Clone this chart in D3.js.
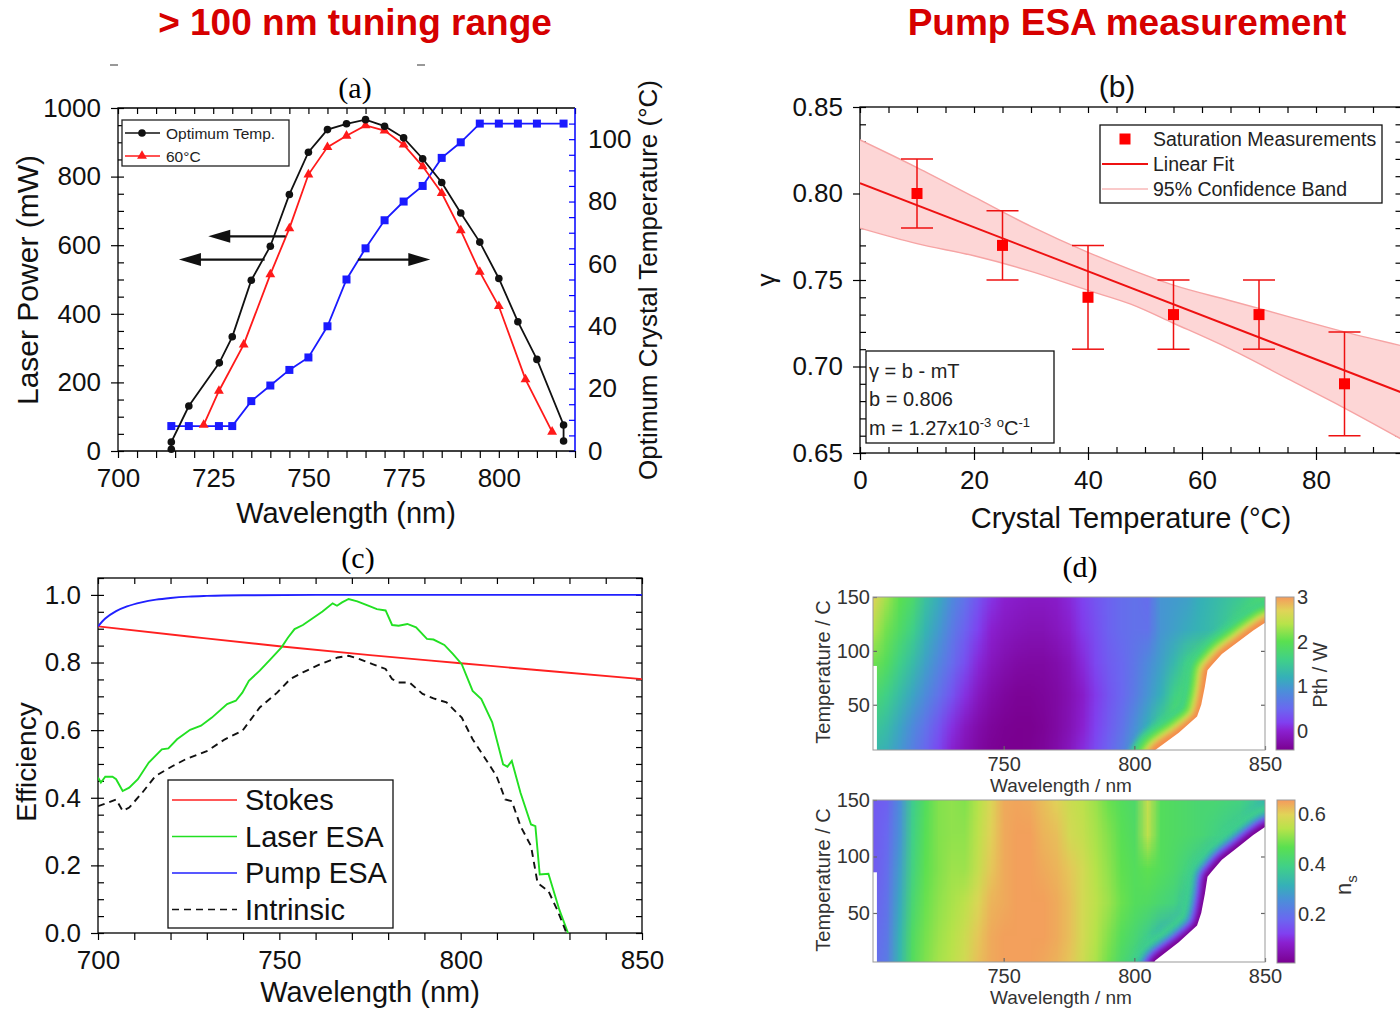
<!DOCTYPE html>
<html>
<head>
<meta charset="utf-8">
<script src="https://cdn.jsdelivr.net/npm/d3@7"></script>
<style>
body { margin: 0; background: #fff; }
svg { display: block; }
</style>
</head>
<body>
<div id="chart"></div>
<script>
// ---- panel (a): tuning curves ----
const optWl = [714, 714, 718.6, 726.6, 730, 735, 740, 745, 750, 755, 760, 765, 770, 775, 780, 785, 790, 795, 800, 805, 810, 817, 817]
const optPow = [5, 26, 131, 257, 333, 498, 597, 748, 871, 937, 954, 966, 947, 913, 852, 783, 694, 609, 503, 377, 267, 76, 29]
const t60Wl = [722.5, 726.5, 733, 740, 745, 750, 755, 760, 765, 770, 775, 780, 785, 790, 795, 800, 807, 814]
const t60Pow = [76, 175, 310, 515, 649, 806, 886, 919, 949, 934, 893, 830, 752, 643, 522, 422, 209, 56]
const tempWl = [714, 718.6, 726.5, 730, 735, 740, 745, 750, 755, 760, 765, 770, 775, 780, 785, 790, 795, 800, 805, 810, 817]
const tempC = [8, 8, 8, 8, 16, 21, 26, 30, 40, 55, 65, 74, 80, 85, 94, 99, 105, 105, 105, 105, 105]
// arrows: [tail wavelength, head wavelength, power level]
const arrowFrom = [744, 738.5, 763]
const arrowTo = [723.7, 716, 782]
const arrowAt = [626, 558, 558]

// ---- panel (b): gamma vs temperature ----
const bTemp = [10, 25, 40, 55, 70, 85]
const bGamma = [0.80, 0.77, 0.74, 0.73, 0.73, 0.69]
const bErr = [0.02, 0.02, 0.03, 0.02, 0.02, 0.03]
const fitT = [0, 95]
const fitG = [0.806, 0.685]
const bandT = [0, 10, 20, 30, 40, 47.5, 55, 65, 75, 85, 95]
const bandHi = [0.831, 0.815, 0.798, 0.781, 0.766, 0.756, 0.747, 0.738, 0.729, 0.720, 0.712]
const bandLo = [0.780, 0.771, 0.764, 0.755, 0.744, 0.736, 0.725, 0.710, 0.693, 0.676, 0.658]

// ---- panel (c): efficiencies ----
const stokesWl = [700, 725, 750, 775, 800, 825, 850]
const stokesEff = [0.907, 0.877, 0.848, 0.822, 0.798, 0.774, 0.751]
const pumpWl = [700, 702, 705, 708, 712, 716, 720, 725, 730, 740, 760, 850]
const pumpEff = [0.907, 0.93, 0.952, 0.966, 0.978, 0.986, 0.991, 0.995, 0.997, 0.999, 1.0, 1.0]
const laserWl = [700, 700.8, 702, 704, 705, 706.8, 708.6, 711, 714, 717.6, 719.4, 721.8, 725.4, 728.4, 731.4, 735.6, 738, 739.8, 741.6, 744.6, 747.6, 750.6, 752.4, 754.2, 756.5, 758.9, 761.9, 764.7, 765.9, 767.3, 769.1, 771.5, 774.5, 776.9, 779.3, 781.1, 782.9, 785.3, 787.7, 790.7, 792.5, 795.5, 797.9, 800.3, 803.3, 805.7, 808.7, 811.7, 812.9, 814.1, 816.5, 819.4, 820.6, 821.8, 824.2, 827.2, 829.6]
const laserEff = [0.46, 0.445, 0.462, 0.462, 0.455, 0.42, 0.43, 0.455, 0.504, 0.543, 0.546, 0.573, 0.601, 0.613, 0.637, 0.677, 0.687, 0.711, 0.746, 0.776, 0.81, 0.845, 0.874, 0.899, 0.911, 0.929, 0.951, 0.975, 0.968, 0.978, 0.988, 0.981, 0.968, 0.958, 0.954, 0.911, 0.909, 0.914, 0.904, 0.870, 0.868, 0.852, 0.825, 0.795, 0.716, 0.692, 0.623, 0.499, 0.492, 0.509, 0.415, 0.321, 0.316, 0.173, 0.175, 0.069, 0.0]
const intrWl = [700, 702.6, 705, 706.8, 708.6, 712.2, 715.8, 720.6, 724.2, 730.2, 735, 739.8, 744.6, 749.4, 753, 756.5, 761.3, 766.1, 769.1, 772.1, 775.7, 779.3, 781.1, 782.9, 785.9, 789.5, 792.5, 796.1, 800.3, 803.3, 806.9, 809.9, 812.3, 814.1, 816.5, 819.4, 821.2, 824.2, 826.6, 829]
const intrEff = [0.375, 0.385, 0.395, 0.361, 0.371, 0.415, 0.464, 0.494, 0.514, 0.539, 0.573, 0.598, 0.667, 0.711, 0.751, 0.771, 0.795, 0.815, 0.82, 0.81, 0.795, 0.781, 0.751, 0.741, 0.741, 0.707, 0.694, 0.682, 0.637, 0.573, 0.514, 0.464, 0.395, 0.39, 0.316, 0.257, 0.148, 0.124, 0.069, 0.005]
const legendC = ['Stokes', 'Laser ESA', 'Pump ESA', 'Intrinsic']

// ---- panel (d): maps ----
const hmWl = [700, 705, 710, 715, 720, 725, 730, 735, 740, 745, 750, 755, 760, 765, 770, 775, 780, 785, 790, 795, 800, 805, 810, 815, 820, 825, 830, 835, 840, 845, 850]
const hmT = [150, 120, 90, 60, 30, 0]
const pthRows = [
  [2.7, 2.3, 2.0, 1.8, 1.4, 1.15, 0.85, 0.6, 0.35, 0.12, 0.0, -0.05, -0.08, -0.08, -0.05, 0.05, 0.2, 0.35, 0.45, 0.55, 0.6, 0.55, 0.95, 1.0, 1.05, 1.2, 1.3, 1.4, 1.5, 1.65, 1.8],
  [2.4, 2.1, 1.85, 1.6, 1.25, 1.0, 0.7, 0.45, 0.2, 0.0, -0.1, -0.15, -0.18, -0.18, -0.12, -0.02, 0.15, 0.3, 0.45, 0.55, 0.6, 0.6, 0.95, 1.05, 1.15, 1.25, 1.35, 1.5, 1.75, 1.9, 1.9],
  [2.1, 1.9, 1.6, 1.35, 1.05, 0.8, 0.55, 0.3, 0.05, -0.12, -0.22, -0.28, -0.3, -0.3, -0.25, -0.15, 0.05, 0.25, 0.4, 0.5, 0.65, 0.85, 1.05, 1.3, 1.6, 1.8, 1.9, 1.9, 1.9, 1.9, 1.9],
  [1.8, 1.6, 1.35, 1.1, 0.85, 0.6, 0.35, 0.1, -0.1, -0.25, -0.33, -0.38, -0.38, -0.35, -0.3, -0.2, -0.05, 0.15, 0.35, 0.5, 0.7, 0.95, 1.2, 1.6, 1.8, 1.9, 1.9, 1.9, 1.9, 1.9, 1.9],
  [1.5, 1.35, 1.1, 0.85, 0.6, 0.35, 0.1, -0.1, -0.25, -0.35, -0.4, -0.42, -0.42, -0.38, -0.3, -0.18, 0.0, 0.2, 0.4, 0.6, 0.9, 1.2, 1.6, 1.9, 1.9, 1.9, 1.9, 1.9, 1.9, 1.9, 1.9],
  [1.25, 1.15, 0.95, 0.7, 0.45, 0.2, -0.05, -0.2, -0.32, -0.4, -0.43, -0.43, -0.4, -0.35, -0.25, -0.1, 0.1, 0.3, 0.5, 0.75, 1.1, 1.5, 1.9, 1.9, 1.9, 1.9, 1.9, 1.9, 1.9, 1.9, 1.9]
]
const nsRows = [
  [0.16, 0.17, 0.25, 0.38, 0.45, 0.5, 0.51, 0.5, 0.54, 0.59, 0.64, 0.645, 0.64, 0.62, 0.6, 0.57, 0.55, 0.52, 0.48, 0.45, 0.43, 0.56, 0.45, 0.44, 0.43, 0.42, 0.42, 0.41, 0.4, 0.37, 0.33],
  [0.16, 0.18, 0.26, 0.39, 0.46, 0.5, 0.51, 0.51, 0.55, 0.6, 0.64, 0.65, 0.65, 0.63, 0.62, 0.58, 0.56, 0.53, 0.5, 0.46, 0.44, 0.55, 0.45, 0.44, 0.43, 0.42, 0.40, 0.38, 0.36, 0.32, 0.3],
  [0.16, 0.19, 0.28, 0.4, 0.47, 0.5, 0.52, 0.52, 0.56, 0.61, 0.64, 0.65, 0.65, 0.64, 0.63, 0.61, 0.58, 0.54, 0.51, 0.47, 0.45, 0.47, 0.45, 0.43, 0.4, 0.36, 0.3, 0.3, 0.3, 0.3, 0.3],
  [0.17, 0.2, 0.3, 0.42, 0.48, 0.51, 0.53, 0.55, 0.59, 0.63, 0.64, 0.65, 0.65, 0.65, 0.64, 0.62, 0.58, 0.55, 0.52, 0.48, 0.45, 0.44, 0.42, 0.4, 0.35, 0.3, 0.3, 0.3, 0.3, 0.3, 0.3],
  [0.18, 0.21, 0.32, 0.44, 0.49, 0.52, 0.54, 0.57, 0.61, 0.64, 0.65, 0.65, 0.65, 0.65, 0.64, 0.62, 0.58, 0.54, 0.5, 0.45, 0.42, 0.38, 0.32, 0.3, 0.3, 0.3, 0.3, 0.3, 0.3, 0.3, 0.3],
  [0.19, 0.22, 0.33, 0.45, 0.5, 0.53, 0.55, 0.58, 0.62, 0.64, 0.65, 0.65, 0.65, 0.64, 0.63, 0.61, 0.57, 0.53, 0.48, 0.42, 0.38, 0.32, 0.3, 0.3, 0.3, 0.3, 0.3, 0.3, 0.3, 0.3, 0.3]
]
// no-lasing cutoff (white region lies at longer wavelength / lower temperature)
const cutWl = [806, 808, 817, 824, 825.6, 827, 828, 829.7, 833.5, 839.5, 845.5, 850]
const cutT = [0, 8, 24, 39, 50, 67, 82, 87, 97, 108, 119, 126]
const notchWl = 701.5, notchT = 86

const FONT = 'Arial, "Liberation Sans", sans-serif'
const SERIF = '"Times New Roman", "Liberation Serif", serif'
const palT = [0, 0.125, 0.18, 0.27, 0.39, 0.475, 0.59, 0.71, 0.825, 0.91, 1]
const palC = ['#7a0090', '#8a20d0', '#8040f0', '#6a68f0', '#4a90d8', '#35b0b8', '#40d088', '#5ae050', '#b8e34a', '#e0d458', '#f59a5c']

let svg = d3.select('#chart').append('svg')
.attr('width', 1400)
.attr('height', 1010)
.attr('font-family', FONT)
.style('background', '#fff')

let defs = svg.append('defs')
defs.append('filter').attr('id', 'soft').attr('x', '-20%').attr('y', '-20%').attr('width', '140%').attr('height', '140%')
.append('feGaussianBlur').attr('stdDeviation', 2.5)

function clip(id, x0, y0, x1, y1) {
	defs.append('clipPath').attr('id', id)
	.append('rect').attr('x', x0).attr('y', y0).attr('width', x1 - x0).attr('height', y1 - y0)
}

function axis(g, gen, size, color = '#000') {
	g.call(gen)
	g.select('.domain').remove()
	g.attr('font-size', size).attr('font-family', FONT)
	g.selectAll('.tick line').attr('stroke', color).attr('stroke-width', 1.2)
	g.selectAll('.tick text').attr('fill', '#111')
	return g
}

// headers
svg.append('text').attr('x', 355).attr('y', 35).attr('text-anchor', 'middle')
.attr('font-size', 37).attr('font-weight', 'bold').attr('fill', '#d60000').text('> 100 nm tuning range')
svg.append('text').attr('x', 1127).attr('y', 35).attr('text-anchor', 'middle')
.attr('font-size', 37).attr('font-weight', 'bold').attr('fill', '#d60000').text('Pump ESA measurement')

// ================= panel (a) =================
let xA = d3.scaleLinear().domain([700, 820]).range([118, 575])
let yA = d3.scaleLinear().domain([0, 1000]).range([451, 108])
let yA2 = d3.scaleLinear().domain([0, 110]).range([451, 108])
let gA = svg.append('g')

gA.append('line').attr('x1', 110).attr('x2', 118).attr('y1', 65).attr('y2', 65).attr('stroke', '#333')
gA.append('line').attr('x1', 417).attr('x2', 425).attr('y1', 65).attr('y2', 65).attr('stroke', '#333')

axis(gA.append('g').attr('transform', `translate(0,${yA(0)})`),
	d3.axisBottom(xA).tickValues(d3.range(700, 821, 5)).tickSize(7).tickPadding(11).tickFormat(d => d % 25 == 0 ? d : ''), 26)
axis(gA.append('g').attr('transform', `translate(0,${yA(1000)})`),
	d3.axisTop(xA).tickValues(d3.range(700, 821, 5)).tickSize(-6).tickFormat(''), 26)
axis(gA.append('g').attr('transform', `translate(${xA(700)},0)`),
	d3.axisLeft(yA).tickValues(d3.range(0, 1001, 200)).tickSize(7).tickPadding(10).tickFormat(d3.format('d')), 26)
axis(gA.append('g').attr('transform', `translate(${xA(700)},0)`),
	d3.axisLeft(yA).tickValues(d3.range(0, 1001, 50)).tickSize(-6).tickFormat(''), 26)
axis(gA.append('g').attr('transform', `translate(${xA(820)},0)`),
	d3.axisRight(yA2).tickValues(d3.range(0, 101, 20)).tickSize(0).tickPadding(13), 26, '#00f')
axis(gA.append('g').attr('transform', `translate(${xA(820)},0)`),
	d3.axisRight(yA2).tickValues(d3.range(0, 106, 5)).tickSize(-6).tickFormat(''), 26, '#00f')

gA.append('path')
.attr('d', `M${xA(820)},${yA(0)}H${xA(700)}V${yA(1000)}H${xA(820)}`)
.attr('fill', 'none').attr('stroke', '#000').attr('stroke-width', 1.3)
gA.append('line').attr('x1', xA(820)).attr('x2', xA(820)).attr('y1', yA(0)).attr('y2', yA(1000))
.attr('stroke', '#00f').attr('stroke-width', 1.5)

let blueData = d3.zip(tempWl, tempC)
let redData = d3.zip(t60Wl, t60Pow)
let blackData = d3.zip(optWl, optPow)

gA.append('path').datum(blueData)
.attr('d', d3.line().x(d => xA(d[0])).y(d => yA2(d[1])))
.attr('fill', 'none').attr('stroke', '#1a1aff').attr('stroke-width', 1.8)
gA.selectAll('.sq').data(blueData).join('path')
.attr('class', 'sq')
.attr('transform', d => `translate(${xA(d[0])},${yA2(d[1])})`)
.attr('d', d3.symbol(d3.symbolSquare, 64))
.attr('fill', '#1a1aff')

gA.append('path').datum(redData)
.attr('d', d3.line().x(d => xA(d[0])).y(d => yA(d[1])))
.attr('fill', 'none').attr('stroke', '#ff1a1a').attr('stroke-width', 1.8)
gA.selectAll('.tri').data(redData).join('path')
.attr('class', 'tri')
.attr('transform', d => `translate(${xA(d[0])},${yA(d[1])})`)
.attr('d', d3.symbol(d3.symbolTriangle, 42))
.attr('fill', '#ff1a1a')

gA.append('path').datum(blackData)
.attr('d', d3.line().x(d => xA(d[0])).y(d => yA(d[1])))
.attr('fill', 'none').attr('stroke', '#111').attr('stroke-width', 1.8)
gA.selectAll('.dot').data(blackData).join('circle')
.attr('class', 'dot')
.attr('cx', d => xA(d[0])).attr('cy', d => yA(d[1])).attr('r', 3.8)
.attr('fill', '#111')

// arrows
arrowFrom.forEach((f, i) => {
	let x0 = xA(f), x1 = xA(arrowTo[i]), y = yA(arrowAt[i])
	let dir = x1 < x0 ? 1 : -1
	gA.append('line').attr('x1', x0).attr('x2', x1 + dir * 18).attr('y1', y).attr('y2', y)
	.attr('stroke', '#111').attr('stroke-width', 2.2)
	gA.append('path')
	.attr('d', `M${x1},${y}L${x1 + dir * 22},${y - 6.5}L${x1 + dir * 22},${y + 6.5}Z`)
	.attr('fill', '#111')
})

// legend (a)
let legA = gA.append('g')
legA.append('rect').attr('x', 122).attr('y', 120).attr('width', 167).attr('height', 46)
.attr('fill', '#fff').attr('stroke', '#222').attr('stroke-width', 1.3)
legA.append('line').attr('x1', 125).attr('x2', 160).attr('y1', 133).attr('y2', 133).attr('stroke', '#111').attr('stroke-width', 1.6)
legA.append('circle').attr('cx', 142).attr('cy', 133).attr('r', 3.8).attr('fill', '#111')
legA.append('text').attr('x', 166).attr('y', 138.5).attr('font-size', 15.5).attr('fill', '#222').text('Optimum Temp.')
legA.append('line').attr('x1', 125).attr('x2', 160).attr('y1', 156).attr('y2', 156).attr('stroke', '#ff1a1a').attr('stroke-width', 1.6)
legA.append('path').attr('transform', 'translate(142,156)').attr('d', d3.symbol(d3.symbolTriangle, 42)).attr('fill', '#ff1a1a')
legA.append('text').attr('x', 166).attr('y', 161.5).attr('font-size', 15.5).attr('fill', '#222').text('60°C')

gA.append('text').attr('x', 355).attr('y', 98).attr('text-anchor', 'middle')
.attr('font-family', SERIF).attr('font-size', 30).text('(a)')
gA.append('text').attr('transform', 'translate(38,280) rotate(-90)').attr('text-anchor', 'middle')
.attr('font-size', 30).attr('fill', '#111').text('Laser Power (mW)')
gA.append('text').attr('x', 346).attr('y', 523).attr('text-anchor', 'middle')
.attr('font-size', 29).attr('fill', '#111').text('Wavelength (nm)')
gA.append('text').attr('transform', 'translate(657,280) rotate(-90)').attr('text-anchor', 'middle')
.attr('font-size', 26).attr('fill', '#111').text('Optimum Crystal Temperature (°C)')

// ================= panel (b) =================
let xB = d3.scaleLinear().domain([0, 95]).range([860, 1401.5])
let yB = d3.scaleLinear().domain([0.65, 0.85]).range([453, 107])
let gB = svg.append('g')
clip('clipB', 860, 107, 1401.5, 453)

axis(gB.append('g').attr('transform', `translate(0,${yB(0.65)})`),
	d3.axisBottom(xB).tickValues([0, 20, 40, 60, 80]).tickSize(7).tickPadding(11), 26)
axis(gB.append('g').attr('transform', `translate(0,${yB(0.65)})`),
	d3.axisBottom(xB).tickValues(d3.range(0, 96, 5)).tickSize(-6).tickFormat(''), 26)
axis(gB.append('g').attr('transform', `translate(0,${yB(0.85)})`),
	d3.axisTop(xB).tickValues(d3.range(0, 96, 5)).tickSize(-6).tickFormat(''), 26)
axis(gB.append('g').attr('transform', `translate(${xB(0)},0)`),
	d3.axisLeft(yB).tickValues([0.65, 0.70, 0.75, 0.80, 0.85]).tickSize(7).tickPadding(10).tickFormat(d3.format('.2f')), 26)
axis(gB.append('g').attr('transform', `translate(${xB(0)},0)`),
	d3.axisLeft(yB).tickValues(d3.range(0, 21).map(i => 0.65 + i * 0.01)).tickSize(-6).tickFormat(''), 26)
axis(gB.append('g').attr('transform', `translate(${xB(95)},0)`),
	d3.axisRight(yB).tickValues(d3.range(0, 21).map(i => 0.65 + i * 0.01)).tickSize(-6).tickFormat(''), 26)

gB.append('rect').attr('x', xB(0)).attr('y', yB(0.85)).attr('width', xB(95) - xB(0)).attr('height', yB(0.65) - yB(0.85))
.attr('fill', 'none').attr('stroke', '#000').attr('stroke-width', 1.3)

let bandData = bandT.map((t, i) => ({ t: t, hi: bandHi[i], lo: bandLo[i] }))
let plotB = gB.append('g').attr('clip-path', 'url(#clipB)')
plotB.append('path').datum(bandData)
.attr('d', d3.area().curve(d3.curveMonotoneX).x(d => xB(d.t)).y0(d => yB(d.lo)).y1(d => yB(d.hi)))
.attr('fill', '#fdd6d6')
;['hi', 'lo'].forEach(k => {
	plotB.append('path').datum(bandData)
	.attr('d', d3.line().curve(d3.curveMonotoneX).x(d => xB(d.t)).y(d => yB(d[k])))
	.attr('fill', 'none').attr('stroke', '#f6a4a4').attr('stroke-width', 1.4)
})
plotB.append('path').datum(d3.zip(fitT, fitG))
.attr('d', d3.line().x(d => xB(d[0])).y(d => yB(d[1])))
.attr('fill', 'none').attr('stroke', '#ee1111').attr('stroke-width', 1.9)

bTemp.forEach((t, i) => {
	let x = xB(t), y0 = yB(bGamma[i] - bErr[i]), y1 = yB(bGamma[i] + bErr[i])
	plotB.append('line').attr('x1', x).attr('x2', x).attr('y1', y0).attr('y2', y1).attr('stroke', '#ee1111').attr('stroke-width', 1.5)
	plotB.append('line').attr('x1', x - 16).attr('x2', x + 16).attr('y1', y0).attr('y2', y0).attr('stroke', '#ee1111').attr('stroke-width', 1.5)
	plotB.append('line').attr('x1', x - 16).attr('x2', x + 16).attr('y1', y1).attr('y2', y1).attr('stroke', '#ee1111').attr('stroke-width', 1.5)
	plotB.append('rect').attr('x', x - 5.5).attr('y', yB(bGamma[i]) - 5.5).attr('width', 11).attr('height', 11).attr('fill', '#ff0000')
})

let legB = gB.append('g')
legB.append('rect').attr('x', 1100).attr('y', 125).attr('width', 282).attr('height', 78)
.attr('fill', '#fff').attr('stroke', '#111').attr('stroke-width', 1.3)
legB.append('rect').attr('x', 1119.5).attr('y', 133.5).attr('width', 11).attr('height', 11).attr('fill', '#ff0000')
legB.append('line').attr('x1', 1102).attr('x2', 1148).attr('y1', 164).attr('y2', 164).attr('stroke', '#ee1111').attr('stroke-width', 1.8)
legB.append('line').attr('x1', 1102).attr('x2', 1148).attr('y1', 189).attr('y2', 189).attr('stroke', '#f8b8b8').attr('stroke-width', 1.6)
;['Saturation Measurements', 'Linear Fit', '95% Confidence Band'].forEach((s, i) => {
	legB.append('text').attr('x', 1153).attr('y', 146 + i * 25).attr('font-size', 19.5).attr('fill', '#222').text(s)
})

let noteB = gB.append('g').attr('font-size', 20).attr('fill', '#222')
noteB.append('rect').attr('x', 866).attr('y', 351).attr('width', 188).attr('height', 92)
.attr('fill', '#fff').attr('stroke', '#111').attr('stroke-width', 1.3)
noteB.append('text').attr('x', 869).attr('y', 378).text('γ = b - mT')
noteB.append('text').attr('x', 869).attr('y', 406).text('b = 0.806')
let mText = noteB.append('text').attr('x', 869).attr('y', 435)
mText.append('tspan').text('m = 1.27x10')
mText.append('tspan').attr('dy', -8).attr('font-size', 13).text('-3')
mText.append('tspan').attr('dy', 8).text(' ')
mText.append('tspan').attr('dy', -8).attr('font-size', 13).text('o')
mText.append('tspan').attr('dy', 8).text('C')
mText.append('tspan').attr('dy', -8).attr('font-size', 13).text('-1')

gB.append('text').attr('x', 1117).attr('y', 97).attr('text-anchor', 'middle').attr('font-size', 30).attr('fill', '#111').text('(b)')
gB.append('text').attr('transform', 'translate(775,280) rotate(-90)').attr('text-anchor', 'middle')
.attr('font-size', 26).attr('fill', '#111').text('γ')
gB.append('text').attr('x', 1131).attr('y', 528).attr('text-anchor', 'middle')
.attr('font-size', 29).attr('fill', '#111').text('Crystal Temperature (°C)')

// ================= panel (c) =================
let xC = d3.scaleLinear().domain([700, 850]).range([98, 642])
let yC = d3.scaleLinear().domain([0, 1.05]).range([933, 578])
let gC = svg.append('g')
clip('clipC', 98, 578, 642, 933)

axis(gC.append('g').attr('transform', `translate(0,${yC(0)})`),
	d3.axisBottom(xC).tickValues(d3.range(700, 851, 10)).tickSize(7).tickPadding(11).tickFormat(d => d % 50 == 0 ? d : ''), 26)
axis(gC.append('g').attr('transform', `translate(0,${yC(1.05)})`),
	d3.axisTop(xC).tickValues(d3.range(700, 851, 10)).tickSize(-6).tickFormat(''), 26)
axis(gC.append('g').attr('transform', `translate(${xC(700)},0)`),
	d3.axisLeft(yC).tickValues([0, 0.2, 0.4, 0.6, 0.8, 1.0]).tickSize(7).tickPadding(10).tickFormat(d3.format('.1f')), 26)
axis(gC.append('g').attr('transform', `translate(${xC(700)},0)`),
	d3.axisLeft(yC).tickValues(d3.range(0, 22).map(i => i * 0.05)).tickSize(-6).tickFormat(''), 26)
axis(gC.append('g').attr('transform', `translate(${xC(850)},0)`),
	d3.axisRight(yC).tickValues(d3.range(0, 22).map(i => i * 0.05)).tickSize(-6).tickFormat(''), 26)

gC.append('rect').attr('x', xC(700)).attr('y', yC(1.05)).attr('width', xC(850) - xC(700)).attr('height', yC(0) - yC(1.05))
.attr('fill', 'none').attr('stroke', '#000').attr('stroke-width', 1.3)

let plotC = gC.append('g').attr('clip-path', 'url(#clipC)')
let lineC = d3.line().x(d => xC(d[0])).y(d => yC(d[1]))
let seriesC = [
	{ data: d3.zip(stokesWl, stokesEff), color: '#ff2020', dash: null, curve: d3.curveMonotoneX },
	{ data: d3.zip(laserWl, laserEff), color: '#22e022', dash: null, curve: d3.curveLinear },
	{ data: d3.zip(pumpWl, pumpEff), color: '#2020ff', dash: null, curve: d3.curveMonotoneX },
	{ data: d3.zip(intrWl, intrEff), color: '#111', dash: '7,5', curve: d3.curveLinear }
]
seriesC.forEach(s => {
	plotC.append('path').datum(s.data)
	.attr('d', lineC.curve(s.curve))
	.attr('fill', 'none').attr('stroke', s.color).attr('stroke-width', 1.9)
	.attr('stroke-dasharray', s.dash)
})

let legC = gC.append('g')
legC.append('rect').attr('x', 168).attr('y', 780).attr('width', 225).attr('height', 148)
.attr('fill', '#fff').attr('stroke', '#111').attr('stroke-width', 1.3)
legendC.forEach((name, i) => {
	let y = 800 + i * 36.5
	legC.append('line').attr('x1', 172).attr('x2', 237).attr('y1', y).attr('y2', y)
	.attr('stroke', seriesC[i].color).attr('stroke-width', 1.6).attr('stroke-dasharray', seriesC[i].dash)
	legC.append('text').attr('x', 245).attr('y', y + 10).attr('font-size', 29).attr('fill', '#111').text(name)
})

gC.append('text').attr('x', 358).attr('y', 568).attr('text-anchor', 'middle')
.attr('font-family', SERIF).attr('font-size', 30).text('(c)')
gC.append('text').attr('transform', 'translate(36,762) rotate(-90)').attr('text-anchor', 'middle')
.attr('font-size', 28).attr('fill', '#111').text('Efficiency')
gC.append('text').attr('x', 370).attr('y', 1002).attr('text-anchor', 'middle')
.attr('font-size', 29).attr('fill', '#111').text('Wavelength (nm)')

// ================= panel (d) =================
let xD = d3.scaleLinear().domain([700, 850]).range([873, 1265])
let yD1 = d3.scaleLinear().domain([8, 150]).range([750, 597])
let yD2 = d3.scaleLinear().domain([6.6, 150]).range([962, 800])
let cD1 = d3.scaleLinear().domain([-0.43, 3]).range([750, 597])
let cD2 = d3.scaleLinear().domain([0.004, 0.656]).range([963, 800])

function palette(lo, hi) {
	return d3.scaleLinear().domain(palT.map(t => lo + t * (hi - lo))).range(palC).clamp(true)
}

let grad = defs.append('linearGradient').attr('id', 'cbGrad')
.attr('x1', 0).attr('y1', 1).attr('x2', 0).attr('y2', 0)
palT.forEach((t, i) => grad.append('stop').attr('offset', t).attr('stop-color', palC[i]))

// rim layers drawn along the cutoff, widest first
const rimTop = [[42, '#40d088'], [30, '#5ae050'], [21, '#b8e34a'], [14, '#e0d458'], [9, '#f5894c']]
const rimBottom = [[40, '#40d088'], [28, '#35b0b8'], [19, '#6a68f0'], [13, '#8040f0'], [8, '#7a0090']]

function heatmap(rows, yS, cS, rims, id, cbX, cbTicks, cbFmt) {
	let g = svg.append('g')
	let [t0, t1] = yS.domain()
	clip(id, xD(700), yS(t1), xD(850), yS(t0))
	let color = palette(cS.domain()[0], cS.domain()[1])

	let nx = hmWl.length, ny = hmT.length
	let cv = document.createElement('canvas')
	cv.width = nx; cv.height = ny
	let ctx = cv.getContext('2d')
	let img = ctx.createImageData(nx, ny)
	rows.forEach((row, j) => row.forEach((v, i) => {
		let c = d3.rgb(color(v)), k = 4 * (j * nx + i)
		img.data[k] = c.r; img.data[k + 1] = c.g; img.data[k + 2] = c.b; img.data[k + 3] = 255
	}))
	ctx.putImageData(img, 0, 0)
	let hx = (hmWl[1] - hmWl[0]) / 2, hy = (hmT[0] - hmT[1]) / 2

	let plot = g.append('g').attr('clip-path', `url(#${id})`)
	plot.append('image')
	.attr('href', cv.toDataURL())
	.attr('x', xD(hmWl[0] - hx)).attr('y', yS(hmT[0] + hy))
	.attr('width', xD(hmWl[nx - 1] + hx) - xD(hmWl[0] - hx))
	.attr('height', yS(hmT[ny - 1] - hy) - yS(hmT[0] + hy))
	.attr('preserveAspectRatio', 'none')

	let cut = d3.zip(cutWl, cutT)
	let last = cut[cut.length - 1]
	let cutLine = d3.line().x(d => xD(d[0])).y(d => yS(d[1]))
	let ext = [[cut[0][0] - 2, -20]].concat(cut, [[last[0] + 4, last[1] + 4]])
	rims.forEach(([w, c]) => {
		plot.append('path').datum(ext)
		.attr('d', cutLine.curve(d3.curveMonotoneY))
		.attr('fill', 'none').attr('stroke', c).attr('stroke-width', w)
		.attr('stroke-linejoin', 'round').attr('filter', 'url(#soft)')
	})
	let poly = cut.concat([[last[0] + 10, last[1]], [last[0] + 10, -20], [cut[0][0], -20]])
	plot.append('path').datum(poly)
	.attr('d', cutLine.curve(d3.curveLinear))
	.attr('fill', '#fff')
	plot.append('rect').attr('x', xD(700)).attr('y', yS(notchT))
	.attr('width', xD(notchWl) - xD(700)).attr('height', yS(t0) - yS(notchT)).attr('fill', '#fff')

	axis(g.append('g').attr('transform', `translate(0,${yS(t0)})`),
		d3.axisBottom(xD).tickValues([750, 800, 850]).tickSize(-4).tickPadding(7), 20, '#666')
	axis(g.append('g').attr('transform', `translate(${xD(700)},0)`),
		d3.axisLeft(yS).tickValues([50, 100, 150]).tickSize(-4).tickPadding(3), 20, '#666')
	axis(g.append('g').attr('transform', `translate(${xD(850)},0)`),
		d3.axisRight(yS).tickValues([50, 100]).tickSize(-4).tickFormat(''), 20, '#666')
	g.selectAll('.tick text').attr('fill', '#333')
	g.append('rect').attr('x', xD(700)).attr('y', yS(t1)).attr('width', xD(850) - xD(700)).attr('height', yS(t0) - yS(t1))
	.attr('fill', 'none').attr('stroke', '#999').attr('stroke-width', 1)

	let [c0, c1] = cS.domain()
	g.append('rect').attr('x', cbX).attr('y', cS(c1)).attr('width', 18).attr('height', cS(c0) - cS(c1))
	.attr('fill', 'url(#cbGrad)').attr('stroke', '#999').attr('stroke-width', 1)
	axis(g.append('g').attr('transform', `translate(${cbX + 18},0)`),
		d3.axisRight(cS).tickValues(cbTicks).tickSize(0).tickPadding(3).tickFormat(cbFmt), 20)
	g.selectAll('.tick text').attr('fill', '#333')
	return g
}

let gD1 = heatmap(pthRows, yD1, cD1, rimTop, 'clipD1', 1276, [0, 1, 2, 3], d3.format('d'))
let gD2 = heatmap(nsRows, yD2, cD2, rimBottom, 'clipD2', 1277, [0.2, 0.4, 0.6], d3.format('.1f'))

gD1.append('text').attr('x', 1080).attr('y', 577).attr('text-anchor', 'middle')
.attr('font-family', SERIF).attr('font-size', 30).text('(d)')
gD1.append('text').attr('transform', 'translate(830,672) rotate(-90)').attr('text-anchor', 'middle')
.attr('font-size', 20).attr('fill', '#333').text('Temperature / C')
gD1.append('text').attr('x', 1061).attr('y', 792).attr('text-anchor', 'middle')
.attr('font-size', 19).attr('fill', '#333').text('Wavelength / nm')
gD1.append('text').attr('transform', 'translate(1327,675) rotate(-90)').attr('text-anchor', 'middle')
.attr('font-size', 20).attr('fill', '#333').text('Pth / W')

gD2.append('text').attr('transform', 'translate(830,880) rotate(-90)').attr('text-anchor', 'middle')
.attr('font-size', 20).attr('fill', '#333').text('Temperature / C')
gD2.append('text').attr('x', 1061).attr('y', 1004).attr('text-anchor', 'middle')
.attr('font-size', 19).attr('fill', '#333').text('Wavelength / nm')
let nsLab = gD2.append('text').attr('transform', 'translate(1351,885) rotate(-90)').attr('text-anchor', 'middle')
.attr('font-size', 22).attr('fill', '#333')
nsLab.append('tspan').text('n')
nsLab.append('tspan').attr('dy', 6).attr('font-size', 15).text('s')
</script>
</body>
</html>
